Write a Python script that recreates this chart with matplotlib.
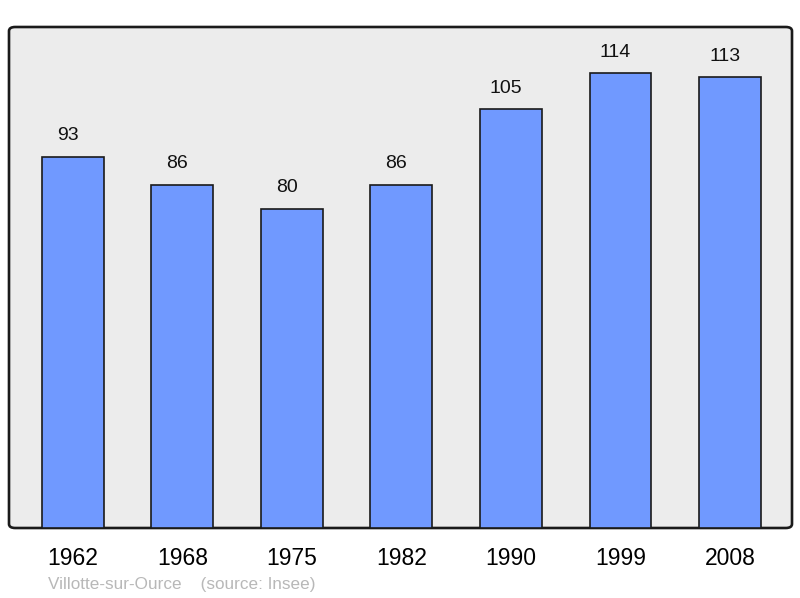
import matplotlib
matplotlib.use("Agg")
from matplotlib import pyplot as plt
from matplotlib.patches import FancyBboxPatch

years = ["1962", "1968", "1975", "1982", "1990", "1999", "2008"]
population = [93, 86, 80, 86, 105, 114, 113]

plt.rcParams['font.family'] = ['Liberation Sans', 'DejaVu Sans']

fig = plt.figure(figsize=(8, 5.98), dpi=100)
ax = fig.add_axes([9/800, 70/598, 783/800, 501/598])
ax.set_facecolor("none")

# rounded frame like the original
frame = FancyBboxPatch((0, 0), 1, 1, boxstyle="round,pad=0,rounding_size=0.008",
                       transform=ax.transAxes, facecolor="#ececec",
                       edgecolor="#1a1a1a", linewidth=1.9, zorder=0,
                       clip_on=False)
ax.add_patch(frame)
for s in ax.spines.values():
    s.set_visible(False)

x = range(len(years))
ax.bar(x, population, width=0.566, color="#7099ff", edgecolor="#1a1a1a",
       linewidth=1.2, zorder=2)
# labels sit a bit left of the bar centre in the original
for i, v in zip(x, population):
    ax.annotate(str(v), (i, v), xytext=(-3.8, 12), textcoords="offset points",
                ha="center", va="baseline", fontsize=14, color="#111111")

ax.set_xlim(-0.584, 6.566)
ax.set_ylim(0, 125.6)
ax.set_xticks(list(x))
ax.set_xticklabels(years, fontsize=16.5)
ax.tick_params(axis="x", length=0, pad=14)
ax.set_yticks([])

fig.text(48/800, 1 - 584/598, "Villotte-sur-Ource    (source: Insee)",
         fontsize=12.3, color="#b8b8b8", va="center", ha="left")

fig.savefig("out.png", dpi=100)
